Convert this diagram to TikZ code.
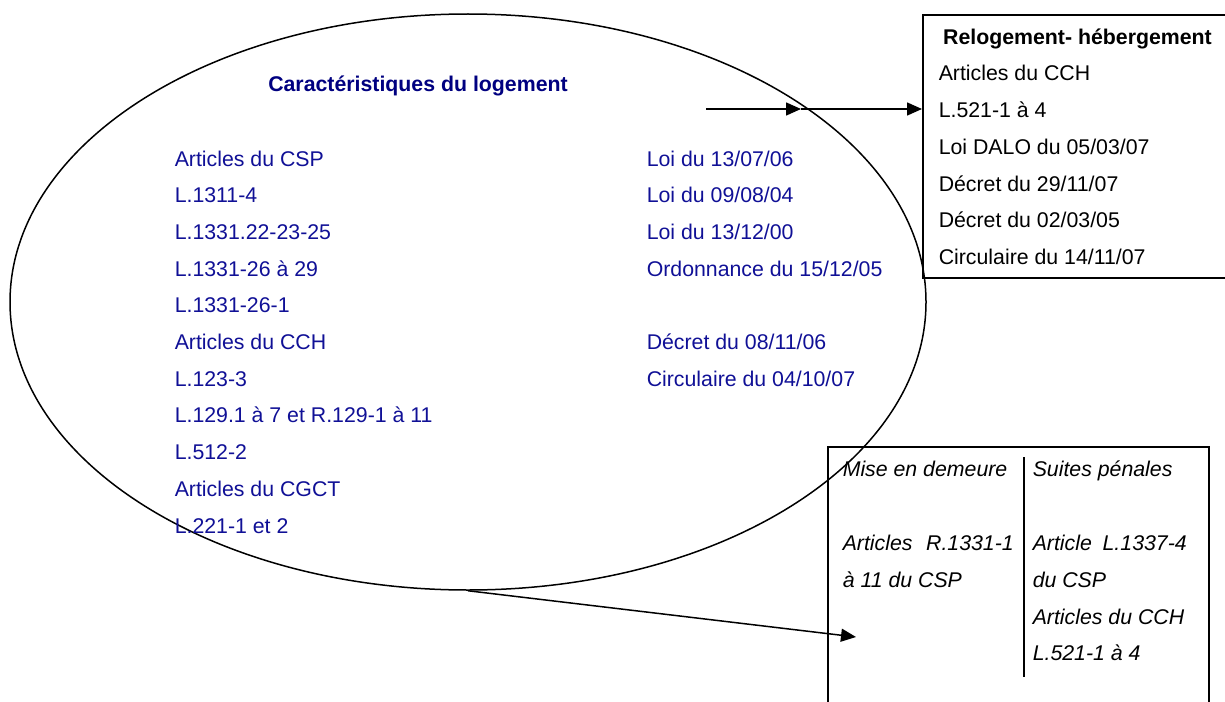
\documentclass[tikz,border=0pt]{standalone}
\usepackage{fontspec}
\setmainfont{Liberation Sans}
\usetikzlibrary{shapes.geometric,arrows.meta}

\definecolor{titleblue}{RGB}{0,0,128}
\definecolor{lawblue}{RGB}{16,16,150}

\tikzset{
  every law/.style={anchor=base west, inner sep=0pt, font=\fontsize{10.65}{12}\selectfont},
  law/.style={every law, text=lawblue},
  penal/.style={every law, font=\fontsize{10.65}{12}\selectfont\itshape},
  frame/.style={draw, line width=0.95pt, inner sep=0pt},
}

\begin{document}
\begin{tikzpicture}[x=0.5pt, y=-0.5pt, line width=0.75pt, >={Triangle[length=7.5pt,width=6.5pt]}]
\useasboundingbox (0,0) rectangle (1225,701);

\node [draw, ellipse, inner sep=0pt, minimum width=458pt, minimum height=288pt] (logement) at (468,302) {};

\node [anchor=base, inner sep=0pt, text=titleblue, font=\fontsize{10.65}{12}\selectfont\bfseries] (logement-title) at (418,91) {Caractéristiques du logement};

\foreach \l [count=\y from 0] in {Articles du CSP, L.1311-4, L.1331.22-23-25, L.1331-26 à 29, L.1331-26-1, Articles du CCH, L.123-3, L.129.1 à 7 et R.129-1 à 11, L.512-2, Articles du CGCT, L.221-1 et 2}
  \node [law] (left-\y) at (174,166+\y*36.7) {\l};

\foreach \l [count=\y from 0] in {Loi du 13/07/06, Loi du 09/08/04, Loi du 13/12/00, Ordonnance du 15/12/05}
  \node [law] (right-\y) at (646,166+\y*36.7) {\l};

\foreach \l [count=\y from 5] in {Décret du 08/11/06, Circulaire du 04/10/07}
  \node [law] (right-\y) at (646,166+\y*36.7) {\l};

% relogement
\node [frame, anchor=north west, minimum width=160pt, minimum height=131.5pt] (relogement) at (922,14) {};
\node [every law, anchor=base, font=\fontsize{10.65}{12}\selectfont\bfseries] (relogement-title) at (1077.5,44.7) {Relogement- hébergement};

\foreach \l [count=\y from 0] in {Articles du CCH, L.521-1 à 4, Loi DALO du 05/03/07, Décret du 29/11/07, Décret du 02/03/05, Circulaire du 14/11/07}
  \node [every law] (relogement-\y) at (938,81+\y*36.7) {\l};

\coordinate (relogement-start) at (706,109);
\coordinate (relogement-mid) at (801,109);
\draw [->] (relogement-start) -- (relogement-mid);
\draw [->] (relogement-mid) -- (relogement-start -| relogement.west);

% sanctions
\node [frame, anchor=north west, minimum width=190.5pt, minimum height=200pt] (sanctions) at (827,446) {};
\draw (1024,457) -- (1024,677);

\node [penal] (demeure-0) at (842,476) {Mise en demeure};
\node [penal] (demeure-1) at (842,550.6) {\makebox[85.5pt]{Articles\hfill R.1331-1}};
\node [penal] (demeure-2) at (842,587.3) {à 11 du CSP};

\node [penal] (penal-0) at (1032,476) {Suites pénales};
\node [penal] (penal-1) at (1032,550.6) {\makebox[77pt]{Article\hfill L.1337-4}};
\foreach \l [count=\y from 2] in {du CSP, Articles du CCH, L.521-1 à 4}
  \node [penal] (penal-\y) at (1032,550.6+\y*36.7-36.7) {\l};

\coordinate (sanctions-tip) at (856,637);
\draw [->] (logement.south) -- (sanctions-tip);

\end{tikzpicture}
\end{document}
